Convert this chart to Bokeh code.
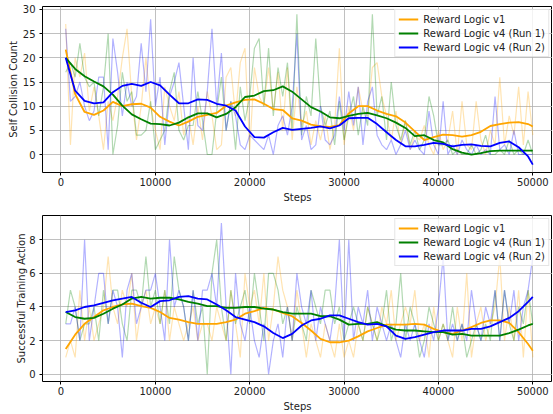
from bokeh.plotting import figure
from bokeh.layouts import column
from bokeh.models import Range1d, FixedTicker, Legend, LegendItem, BasicTickFormatter
from bokeh.embed import file_html
from bokeh.resources import INLINE

# ---------------- data ----------------
steps = list(range(500, 50001, 500))
smooth_steps = list(range(500, 50000, 1000)) + [50000]
series_names = ["Reward Logic v1", "Reward Logic v4 (Run 1)", "Reward Logic v4 (Run 2)"]
x_ticks = [0, 10000, 20000, 30000, 40000, 50000]
collision_ticks = [0, 5, 10, 15, 20, 25, 30]
success_ticks = [0, 2, 4, 6, 8]

# Self Collision Count - raw
coll_v1_raw = [27, 2, 20, 16, 21, 9, 14, 8, 1, 11,
               7, 12, 20, 26, 12, 3, 10, 20, 10, 5,
               1, 14, 10, 7, 13, 4, 8, 2, 10, 3,
               13, 8, 1, 2, 16, 18, 8, 19, 22, 1,
               18, 12, 10, 18, 9, 17, 5, 18, 3, 14,
               6, 9, 2, 7, 3, 8, 1, 6, 22, 2,
               10, 5, 14, 9, 8, 18, 19, 12, 8, 3,
               9, 2, 7, 1, 4, 3, 6, 2, 0, 5,
               1, 3, 9, 0, 11, 2, 1, 11, 3, 0,
               5, 2, 16, 2, 8, 4, 14, 2, 13, 4]
coll_r1_raw = [17, 19, 16, 23, 16, 14, 15, 8, 14, 25,
               0, 6, 17, 11, 13, 4, 4, 5, 11, 1,
               3, 5, 13, 17, 5, 3, 6, 6, 13, 7,
               0, 0, 9, 16, 5, 11, 1, 14, 7, 12,
               22, 24, 10, 22, 8, 18, 12, 19, 5, 29,
               4, 12, 8, 24, 10, 6, 9, 2, 11, 3,
               8, 12, 4, 10, 6, 29, 8, 12, 3, 15,
               6, 3, 7, 2, 5, 1, 3, 12, 8, 2,
               2, 3, 0, 1, 0, 0, 2, 0, 1, 4,
               0, 0, 1, 0, 3, 0, 1, 0, 3, 0]
coll_r2_raw = [26, 11, 12, 15, 10, 7, 9, 16, 16, 1,
               24, 17, 8, 15, 10, 12, 23, 13, 28, 10,
               16, 2, 12, 15, 19, 10, 1, 20, 6, 5,
               13, 26, 10, 21, 5, 11, 8, 2, 1, 4,
               3, 2, 1, 4, 0, 6, 8, 4, 10, 25,
               3, 6, 1, 2, 10, 3, 2, 4, 12, 5,
               13, 6, 14, 2, 11, 14, 4, 2, 1, 3,
               0, 2, 5, 1, 3, 1, 0, 9, 2, 0,
               11, 0, 2, 0, 3, 1, 0, 2, 0, 1,
               0, 12, 1, 2, 0, 5, 0, 0, 0, 0]

# Self Collision Count - smoothed
coll_v1_smooth = [21.7, 12.5, 8.8, 8.2, 9.1, 10.9, 10.0, 10.4, 10.5, 9.7,
                  7.8, 6.8, 6.0, 6.8, 7.8, 8.2, 8.6, 10.1, 10.8, 11.3,
                  11.4, 10.5, 9.4, 9.2, 7.5, 7.0, 6.2, 5.8, 5.7, 6.1,
                  8.5, 10.0, 10.0, 9.1, 8.4, 7.9, 6.6, 4.8, 3.0, 3.6,
                  4.1, 4.0, 3.7, 4.0, 4.7, 5.9, 6.3, 6.6, 6.7, 6.3,
                  5.8]
coll_r1_smooth = [20.0, 17.7, 16.2, 15.1, 14.1, 12.4, 10.1, 8.3, 7.3, 6.4,
                  6.3, 6.0, 6.6, 7.7, 8.5, 8.5, 7.7, 8.4, 9.8, 11.9,
                  12.2, 13.1, 13.3, 14.1, 13.0, 11.4, 9.8, 8.9, 7.7, 7.5,
                  8.0, 8.4, 8.6, 8.1, 7.5, 6.6, 5.5, 3.8, 4.0, 3.0,
                  2.5, 1.1, 0.4, 0.0, 0.3, 0.7, 0.8, 0.8, 0.8, 0.8,
                  0.8]
coll_r2_smooth = [20.0, 13.2, 11.1, 10.6, 10.8, 12.9, 14.2, 14.6, 14.2, 15.0,
                  14.3, 12.4, 10.6, 10.6, 11.4, 11.3, 10.5, 10.1, 9.1, 5.8,
                  3.6, 3.5, 4.6, 5.5, 5.1, 5.3, 5.5, 5.8, 5.4, 6.0,
                  7.5, 7.6, 7.6, 6.3, 4.6, 3.0, 1.7, 1.7, 2.0, 2.4,
                  2.2, 1.7, 2.0, 2.1, 1.8, 1.7, 2.4, 2.7, 1.5, -0.4,
                  -2.1]

# Successful Training Action - raw
succ_v1_raw = [1, 2, 1, 5, 2, 4, 2, 3, 4, 7,
               4, 3, 5, 4, 6, 2, 4, 5, 3, 4,
               3, 5, 2, 4, 3, 2, 3, 4, 2, 3,
               3, 2, 4, 3, 2, 5, 3, 1, 6, 4,
               5, 3, 6, 2, 4, 7, 5, 4, 2, 5,
               3, 1, 3, 2, 1, 3, 2, 1, 3, 1,
               2, 1, 3, 2, 4, 3, 2, 4, 3, 5,
               2, 3, 4, 3, 5, 2, 3, 1, 4, 2,
               3, 2, 1, 4, 2, 6, 1, 3, 4, 2,
               3, 4, 7, 2, 4, 2, 5, 1, 5, 1]
succ_r1_raw = [3, 5, 4, 2, 3, 3, 4, 2, 5, 3,
               5, 5, 3, 2, 5, 5, 4, 7, 4, 5,
               3, 5, 3, 7, 5, 4, 2, 5, 3, 4,
               0, 6, 8, 4, 2, 5, 3, 4, 5, 3,
               6, 4, 2, 6, 6, 5, 3, 4, 2, 4,
               3, 2, 5, 4, 3, 5, 5, 3, 4, 2,
               3, 4, 3, 2, 4, 3, 2, 3, 5, 2,
               3, 6, 2, 4, 3, 1, 2, 4, 3, 2,
               3, 2, 4, 2, 3, 1, 2, 3, 2, 3,
               2, 5, 2, 5, 3, 2, 4, 3, 5, 3]
succ_r2_raw = [3, 3, 4, 2, 8, 2, 4, 6, 6, 3,
               5, 4, 1, 5, 6, 3, 4, 5, 5, 6,
               4, 2, 8, 4, 5, 4, 2, 5, 2, 5,
               5, 6, 4, 9, 4, 0, 6, 3, 2, 4,
               2, 1, 3, 0, 2, 3, 1, 4, 2, 6,
               4, 3, 5, 2, 4, 3, 2, 4, 8, 2,
               8, 2, 4, 3, 5, 2, 4, 3, 2, 3,
               2, 1, 3, 2, 3, 2, 1, 3, 2, 4,
               7, 2, 3, 2, 3, 2, 5, 3, 2, 4,
               3, 5, 2, 5, 3, 5, 2, 4, 5, 7]

# Successful Training Action - smoothed
succ_v1_smooth = [1.5, 2.35, 3.0, 3.4, 3.8, 4.0, 4.15, 4.2, 4.05, 3.95,
                  3.7, 3.35, 3.25, 3.1, 3.0, 3.0, 3.0, 3.1, 3.25, 3.6,
                  3.75, 3.95, 3.85, 3.65, 3.45, 3.05, 2.6, 2.1, 1.9, 1.9,
                  2.0, 2.25, 2.55, 2.75, 2.95, 2.95, 2.95, 3.0, 2.95, 2.7,
                  2.5, 2.4, 2.6, 2.8, 3.05, 3.2, 3.2, 3.05, 2.5, 1.8,
                  1.4]
succ_r1_smooth = [3.7, 3.4, 3.3, 3.35, 3.6, 3.9, 4.15, 4.5, 4.6, 4.5,
                  4.55, 4.55, 4.45, 4.3, 4.2, 4.05, 4.05, 3.95, 3.95, 4.0,
                  4.0, 3.9, 3.85, 3.7, 3.6, 3.6, 3.6, 3.45, 3.45, 3.25,
                  2.95, 3.0, 3.0, 3.1, 2.85, 2.65, 2.6, 2.6, 2.55, 2.5,
                  2.5, 2.35, 2.4, 2.3, 2.3, 2.3, 2.3, 2.45, 2.65, 2.9,
                  3.0]
succ_r2_smooth = [3.7, 3.8, 4.0, 4.1, 4.25, 4.4, 4.5, 4.6, 4.25, 4.0,
                  4.35, 4.4, 4.6, 4.65, 4.5, 4.45, 4.15, 3.8, 3.4, 3.25,
                  3.1, 2.85, 2.45, 2.15, 2.4, 2.9, 3.2, 3.3, 3.5, 3.5,
                  3.3, 3.1, 2.95, 3.0, 2.85, 2.3, 2.1, 2.2, 2.35, 2.5,
                  2.6, 2.6, 2.6, 2.7, 2.7, 2.85, 3.1, 3.35, 3.75, 4.3,
                  4.6]

colors = ["#FFA500", "#008000", "#0000FF"]
FONT = "DejaVu Sans"
FS = "10px"
TXT = "#222222"


def make_fig(raws, smooths, ylabel, yticks, y0, y1, fh, top_border, ylab_standoff):
    p = figure(frame_width=510, frame_height=fh,
               min_border_left=42, min_border_right=0,
               min_border_top=top_border, min_border_bottom=32,
               x_range=Range1d(-1960, 52088), y_range=Range1d(y0, y1),
               output_backend="svg", toolbar_location=None)
    p.background_fill_color = "white"
    p.border_fill_color = "white"
    p.outline_line_color = "black"
    p.outline_line_width = 1

    for ax in (p.xaxis[0], p.yaxis[0]):
        ax.axis_line_color = None
        ax.major_tick_out = 3
        ax.major_tick_in = 0
        ax.minor_tick_line_color = None
        ax.major_tick_line_color = "black"
        ax.major_label_text_font = FONT
        ax.major_label_text_font_size = FS
        ax.major_label_text_color = TXT
        ax.axis_label_text_font = FONT
        ax.axis_label_text_font_size = FS
        ax.axis_label_text_font_style = "normal"
        ax.axis_label_text_color = TXT
    p.xaxis.major_label_standoff = 2
    p.xaxis.axis_label_standoff = 3
    p.yaxis.major_label_standoff = 4
    p.yaxis.axis_label_standoff = ylab_standoff

    p.xaxis.ticker = FixedTicker(ticks=x_ticks)
    p.xaxis.formatter = BasicTickFormatter(use_scientific=False)
    p.yaxis.ticker = FixedTicker(ticks=yticks)
    p.xaxis.axis_label = "Steps"
    p.yaxis.axis_label = ylabel

    p.grid.grid_line_color = "#b0b0b0"
    p.grid.grid_line_width = 0.8

    for raw, c in zip(raws, colors):
        p.line(steps, raw, line_color=c, line_alpha=0.3, line_width=1.2)
    items = []
    for sm, c, name in zip(smooths, colors, series_names):
        r = p.line(smooth_steps, sm, line_color=c, line_width=1.8)
        items.append(LegendItem(label=name, renderers=[r]))

    legend = Legend(items=items, location="top_right")
    legend.label_text_font = FONT
    legend.label_text_font_size = FS
    legend.label_text_color = TXT
    legend.glyph_width = 20
    legend.glyph_height = 12
    legend.label_height = 12
    legend.label_standoff = 5
    legend.padding = 3
    legend.spacing = 2
    legend.margin = 3
    legend.border_line_color = "#cccccc"
    legend.background_fill_alpha = 0.8
    p.add_layout(legend)
    return p


p1 = make_fig([coll_v1_raw, coll_r1_raw, coll_r2_raw],
              [coll_v1_smooth, coll_r1_smooth, coll_r2_smooth],
              "Self Collision Count", collision_ticks, -3.72, 30.62, 166, 6, 1)
p2 = make_fig([succ_v1_raw, succ_r1_raw, succ_r2_raw],
              [succ_v1_smooth, succ_r1_smooth, succ_r2_smooth],
              "Successful Training Action", success_ticks, -0.435, 9.446, 166, 10, -1)

layout = column(p1, p2, spacing=0)
open("out.html", "w").write(file_html(layout, INLINE))
